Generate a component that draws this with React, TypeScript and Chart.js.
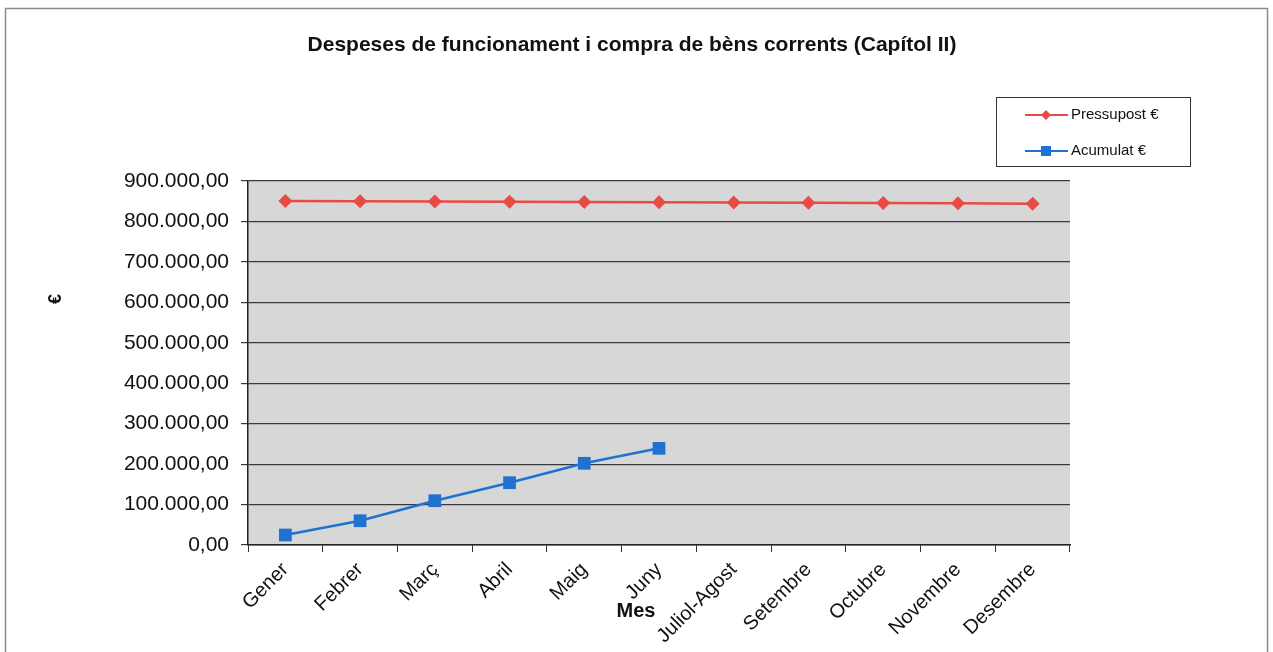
import React, { useEffect, useRef } from "react";
import { Chart, registerables } from "chart.js";

Chart.register(...registerables);

const chartTitle = "Despeses de funcionament i compra de bèns corrents (Capítol II)";
const months = [
  "Gener",
  "Febrer",
  "Març",
  "Abril",
  "Maig",
  "Juny",
  "Juliol-Agost",
  "Setembre",
  "Octubre",
  "Novembre",
  "Desembre",
];
const pressupost = [850500, 850000, 849500, 849000, 848000, 847500, 847000, 846000, 845500, 845000, 844000];
const acumulat: (number | null)[] = [24700, 60000, 109500, 154000, 202000, 239000, null, null, null, null, null];
const seriesNames = ["Pressupost €", "Acumulat €"];
const yMin = 0;
const yMax = 900000;
const yStep = 100000;

const FONT = "'Liberation Sans', Arial, sans-serif";
const RED = "#ea4a44";
const BLUE = "#1f72cf";

function fmt(v: number): string {
  const s = String(Math.round(v)).replace(/\B(?=(\d{3})+(?!\d))/g, ".");
  return s + ",00";
}

const decorPlugin = {
  id: "decor",
  beforeDraw(chart: any) {
    const { ctx, chartArea, width, height } = chart;
    ctx.save();
    ctx.fillStyle = "#ffffff";
    ctx.fillRect(0, 0, width, height);
    ctx.strokeStyle = "#8a8a8a";
    ctx.lineWidth = 1.5;
    ctx.strokeRect(5.5, 8.5, width - 11, height + 20);
    ctx.fillStyle = "#d7d7d7";
    ctx.fillRect(chartArea.left, chartArea.top, chartArea.right - chartArea.left, chartArea.bottom - chartArea.top);
    ctx.restore();
  },
  afterDraw(chart: any) {
    const { ctx } = chart;
    ctx.save();
    ctx.fillStyle = "#111";
    ctx.textAlign = "center";
    ctx.textBaseline = "middle";
    ctx.font = `bold 21px ${FONT}`;
    ctx.fillText(chartTitle, 632, 45);

    ctx.font = `bold 20px ${FONT}`;
    ctx.fillText("Mes", 636, 611);

    ctx.save();
    ctx.translate(56, 299);
    ctx.rotate(-Math.PI / 2);
    ctx.font = `bold 18px ${FONT}`;
    ctx.fillText("€", 0, 0);
    ctx.restore();

    // legend
    ctx.fillStyle = "#fff";
    ctx.fillRect(996, 97, 194, 69);
    ctx.strokeStyle = "#333";
    ctx.lineWidth = 1;
    ctx.strokeRect(996.5, 97.5, 194, 69);
    const items = [
      { name: seriesNames[0], color: RED, y: 115, shape: "diamond" },
      { name: seriesNames[1], color: BLUE, y: 151, shape: "square" },
    ];
    items.forEach((it) => {
      ctx.strokeStyle = it.color;
      ctx.lineWidth = 2;
      ctx.beginPath();
      ctx.moveTo(1025, it.y);
      ctx.lineTo(1068, it.y);
      ctx.stroke();
      ctx.fillStyle = it.color;
      if (it.shape === "diamond") {
        ctx.beginPath();
        ctx.moveTo(1046, it.y - 5);
        ctx.lineTo(1051, it.y);
        ctx.lineTo(1046, it.y + 5);
        ctx.lineTo(1041, it.y);
        ctx.closePath();
        ctx.fill();
      } else {
        ctx.fillRect(1041, it.y - 5, 10, 10);
      }
      ctx.fillStyle = "#111";
      ctx.textAlign = "left";
      ctx.font = `15px ${FONT}`;
      ctx.fillText(it.name, 1071, it.y);
    });
    ctx.restore();
  },
};

export default function App() {
  const ref = useRef<HTMLCanvasElement | null>(null);
  useEffect(() => {
    if (!ref.current) return;
    const chart = new Chart(ref.current, {
      type: "line",
      data: {
        labels: months,
        datasets: [
          {
            label: seriesNames[0],
            data: pressupost,
            borderColor: RED,
            backgroundColor: RED,
            borderWidth: 2.5,
            pointStyle: "rectRot",
            pointRadius: 7,
            pointHoverRadius: 7,
            pointBorderWidth: 0,
            tension: 0,
          },
          {
            label: seriesNames[1],
            data: acumulat,
            borderColor: BLUE,
            backgroundColor: BLUE,
            borderWidth: 2.5,
            pointStyle: "rect",
            pointRadius: 9,
            pointHoverRadius: 9,
            pointBorderWidth: 0,
            tension: 0,
            spanGaps: false,
          },
        ],
      },
      options: {
        animation: false,
        responsive: true,
        maintainAspectRatio: false,
        layout: { padding: { top: 181, right: 203, left: 0, bottom: 0 } },
        plugins: {
          legend: { display: false },
          title: { display: false },
          tooltip: { enabled: false },
        },
        scales: {
          x: {
            offset: true,
            afterFit: (s: any) => {
              s.height = 107;
            },
            grid: {
              display: true,
              drawOnChartArea: false,
              drawTicks: true,
              tickLength: 7,
              color: "#333",
              offset: true,
            },
            border: { color: "#222", width: 1.5 },
            ticks: {
              autoSkip: false,
              maxRotation: 45,
              minRotation: 45,
              padding: 6,
              color: "#111",
              font: { family: FONT, size: 20 },
            },
          },
          y: {
            min: yMin,
            max: yMax,
            afterFit: (s: any) => {
              s.width = 248;
            },
            grid: {
              color: "#3a3a3a",
              lineWidth: 1.2,
              drawTicks: true,
              tickLength: 7,
            },
            border: { color: "#222", width: 1.5 },
            ticks: {
              stepSize: yStep,
              padding: 12,
              color: "#111",
              font: { family: FONT, size: 21 },
              callback: (v: any) => fmt(Number(v)),
            },
          },
        },
      },
      plugins: [decorPlugin],
    });
    return () => chart.destroy();
  }, []);
  return (
    <div style={{ position: "fixed", left: 0, top: 0, width: 1273, height: 652, background: "#fff" }}>
      <canvas ref={ref} />
    </div>
  );
}
